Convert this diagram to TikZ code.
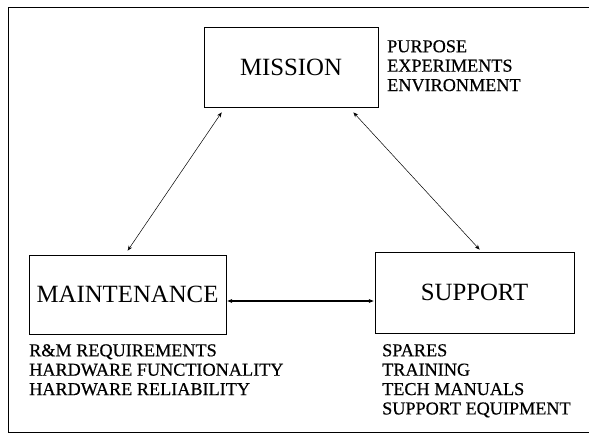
\documentclass[tikz,border=0pt]{standalone}
\usepackage{fontspec}
\setmainfont{Liberation Serif}
\newfontfamily\lblfont{Liberation Serif}[FakeBold=0.5]
\usetikzlibrary{arrows.meta,calc}
\begin{document}
\begin{tikzpicture}[x=1pt,y=-1pt,
  box/.style={draw,line width=0.7pt,inner sep=0pt,font=\fontsize{24.8}{28}\selectfont},
  lbl/.style={anchor=north west,inner sep=0pt,align=left,font=\lblfont\fontsize{18.2}{19.4}\selectfont},
  link/.style={line width=0.5pt,{Stealth[length=5pt,width=4pt]}-{Stealth[length=5pt,width=4pt]}}]
\useasboundingbox (0,0) rectangle (589,435);
\draw[line width=0.7pt] (589,7) -- (8,7) -- (8,432) -- (589,432);
\node[box,minimum width=174pt,minimum height=80pt] (mission) at (291,67) {MISSION};
\node[box,minimum width=197pt,minimum height=79pt] (maint) at (127.5,294.5) {MAINTENANCE};
\node[box,minimum width=199pt,minimum height=81pt] (support) at (474.5,292.5) {SUPPORT};
\node[lbl] (mlbl) at (387,40) {PURPOSE\\EXPERIMENTS\\ENVIRONMENT};
\node[lbl] (tlbl) at (29,344) {R\&M REQUIREMENTS\\HARDWARE FUNCTIONALITY\\HARDWARE RELIABILITY};
\node[lbl] (slbl) at (382,344) {SPARES\\TRAINING\\TECH MANUALS\\SUPPORT EQUIPMENT};
\draw[link] ($(mission.south west)+(18,5)$) -- ($(maint.north west)+(99,-4)$);
\draw[link] ($(mission.south east)+(-25,5)$) -- ($(support.north west)+(105,-2)$);
\draw[link,line width=1.1pt] ($(maint.east)+(1,6.5)$) -- ($(support.west)+(-1,8.5)$);
\end{tikzpicture}
\end{document}
